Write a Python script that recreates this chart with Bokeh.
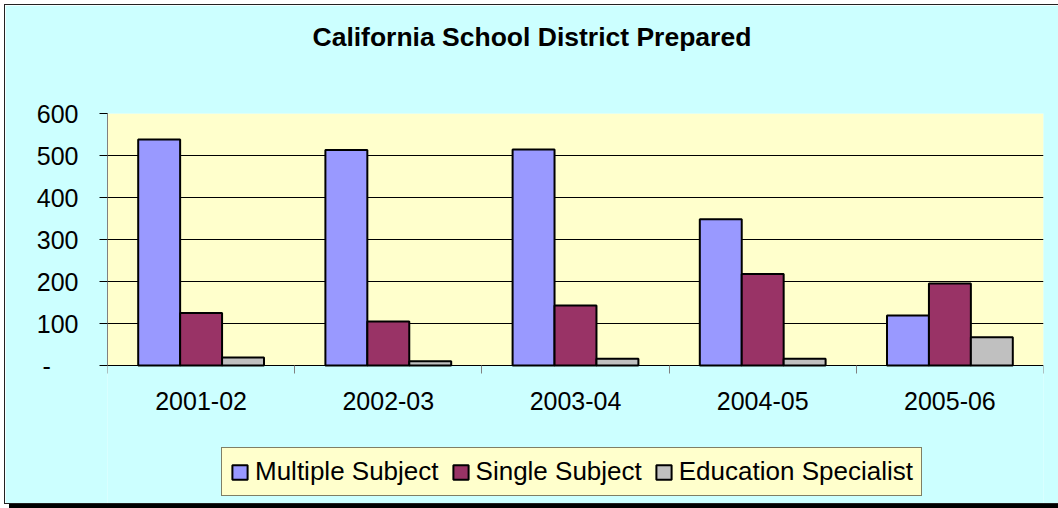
from bokeh.plotting import figure
from bokeh.models import (ColumnDataSource, Range1d, FixedTicker, Legend, LegendItem, LinearAxis)
from bokeh.transform import dodge
from bokeh.embed import file_html
from bokeh.resources import INLINE

categories = ["2001-02", "2002-03", "2003-04", "2004-05", "2005-06"]
multiple_subject = [538, 513, 514, 348, 119]
single_subject = [125, 105, 143, 218, 195]
education_specialist = [19, 10, 16, 16, 67]
y_ticks = [0, 100, 200, 300, 400, 500, 600]
y_tick_labels = ["-\u00a0\u00a0\u00a0\u00a0", "100", "200", "300", "400", "500", "600"]
title_text = "California School District Prepared"
series_names = ["Multiple Subject", "Single Subject", "Education Specialist"]

FONT = "Liberation Sans"
CHART_BG = "#CCFFFF"
PLOT_BG = "#FFFFCC"
COLORS = ["#9999FF", "#993366", "#C0C0C0"]
BAR_W = 0.224

# layout geometry (pixels)
FIG_W, FIG_H = 1053, 498
TOP, LEFT, RIGHT = 108, 102, 15
PLOT_H = 252                     # height of the 0..600 value area
FRAME_H = FIG_H - TOP            # frame runs down to the bottom of the chart
Y_MAX = y_ticks[-1]
y_start = Y_MAX - Y_MAX * FRAME_H / PLOT_H

centers = [i + 0.5 for i in range(len(categories))]
source = ColumnDataSource(dict(x=centers, ms=multiple_subject, ss=single_subject, es=education_specialist))

p = figure(width=FIG_W, height=FIG_H, output_backend="svg", toolbar_location=None,
           x_range=Range1d(0, len(categories)), y_range=Range1d(y_start, Y_MAX),
           min_border_left=LEFT, min_border_right=RIGHT, min_border_top=TOP, min_border_bottom=0,
           background_fill_color=CHART_BG, border_fill_color=CHART_BG,
           title=title_text)
p.margin = (5, 0, 0, 5)
p.styles = {"outline": "1.5px solid #222222", "box-shadow": "4px 5px 0px #000000"}
p.outline_line_color = None

# pale yellow plot area behind grid and bars
p.quad(left=0, right=len(categories), bottom=0, top=Y_MAX, fill_color=PLOT_BG,
       line_color=None, level="image")

renderers = []
for col, off, color in zip(["ms", "ss", "es"], [-BAR_W, 0, BAR_W], COLORS):
    r = p.vbar(x=dodge("x", off, range=p.x_range), top=col, width=BAR_W, bottom=0,
               source=source, fill_color=color, line_color="black", line_width=2)
    renderers.append(r)

# title
p.title.text_font = FONT
p.title.text_font_size = "26.5px"
p.title.text_font_style = "bold"
p.title.text_color = "black"
p.title.align = "left"
p.title.offset = 205
p.title.standoff = 0
p.title.vertical_align = "bottom"

xax = p.xaxis[0]
yax = p.yaxis[0]

# x axis at value 0: ticks at category boundaries (minor), labels at centers
xax.fixed_location = 0
xax.ticker = FixedTicker(ticks=centers, minor_ticks=list(range(len(categories) + 1)))
xax.major_label_overrides = {c: lab for c, lab in zip(centers, categories)}
xax.major_tick_line_color = None
xax.major_tick_out = 0
xax.major_tick_in = 0
xax.minor_tick_out = 8
xax.minor_tick_in = 0
xax.minor_tick_line_color = "#808080"
xax.axis_line_color = "black"
xax.major_label_text_font = FONT
xax.major_label_text_font_size = "25px"
xax.major_label_text_color = "black"
xax.major_label_standoff = 18

# y axis
yax.bounds = (0, Y_MAX)
yax.ticker = FixedTicker(ticks=y_ticks, minor_ticks=[])
yax.major_label_overrides = {t: lab for t, lab in zip(y_ticks, y_tick_labels)}
yax.axis_line_color = "#808080"
yax.major_tick_line_color = "black"
yax.major_tick_out = 8
yax.major_tick_in = 0
yax.minor_tick_line_color = None
yax.major_label_text_font = FONT
yax.major_label_text_font_size = "25px"
yax.major_label_text_color = "black"
yax.major_label_standoff = 21

p.xgrid.grid_line_color = None
p.ygrid.ticker = FixedTicker(ticks=y_ticks[1:])
p.ygrid.grid_line_color = "black"
p.ygrid.grid_line_width = 1

# invisible spacer between title and plot area
mid = len(categories) / 2
spacer = LinearAxis(ticker=FixedTicker(ticks=[mid], minor_ticks=[]), major_tick_out=62, major_tick_in=0,
                    major_label_overrides={mid: ""},
                    axis_line_color=None, major_tick_line_color=None, minor_tick_line_color=None,
                    major_label_text_font_size="0px", major_label_standoff=0)
p.add_layout(spacer, "above")

legend = Legend(items=[LegendItem(label=n, renderers=[r]) for n, r in zip(series_names, renderers)],
                orientation="horizontal", location=(114, 7),
                background_fill_color=PLOT_BG, background_fill_alpha=1,
                border_line_color="black", border_line_width=1,
                label_text_font=FONT, label_text_font_size="26px", label_text_color="black",
                glyph_width=19, glyph_height=18, label_standoff=6, spacing=12,
                padding=8, margin=0)
p.add_layout(legend, "center")

open("out.html", "w").write(file_html(p, INLINE))
